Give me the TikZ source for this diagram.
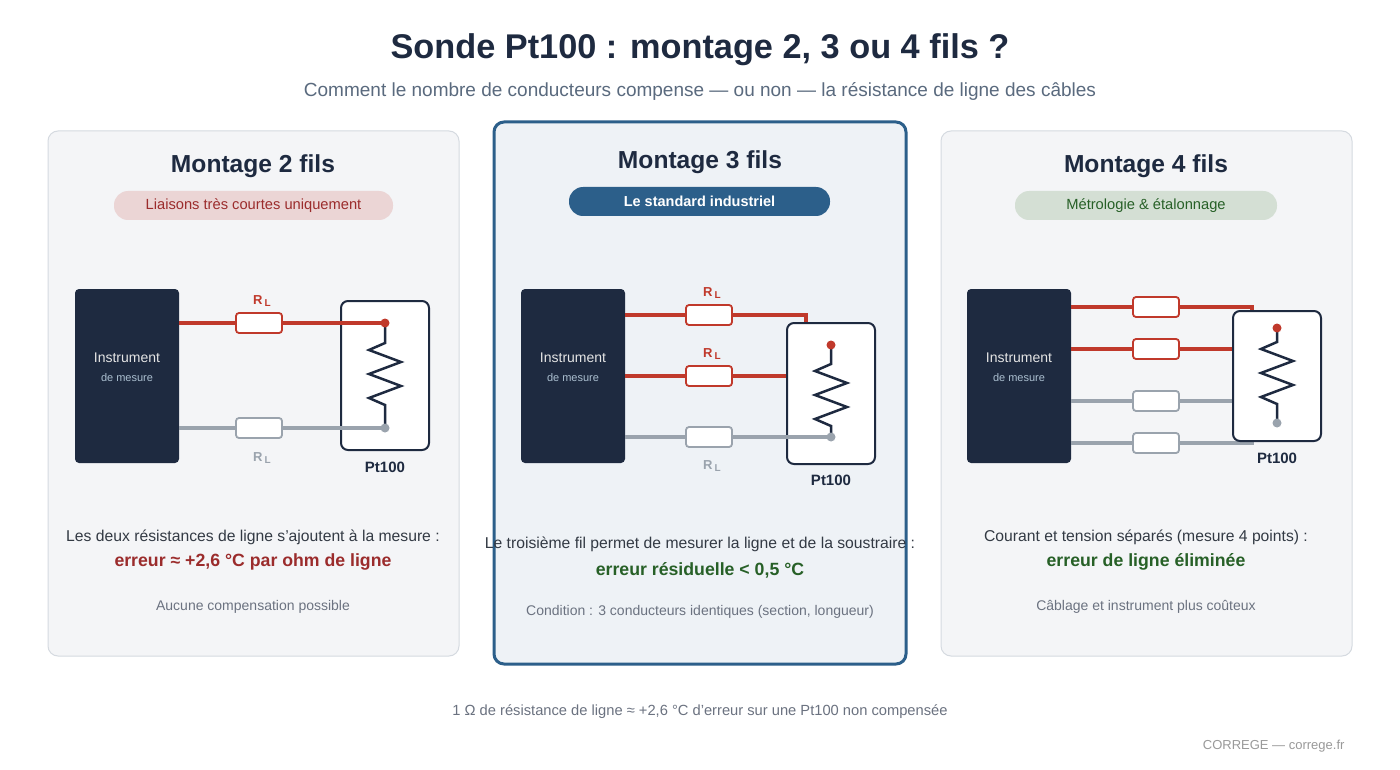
\documentclass[tikz,border=0pt]{standalone}
\usepackage{fontspec}
\setmainfont{Liberation Sans}
\begin{document}
\definecolor{navy}{HTML}{1E2A40}
\definecolor{wred}{HTML}{C0392B}
\definecolor{wgrey}{HTML}{9AA3AD}
\definecolor{dred}{HTML}{9B2C2C}
\definecolor{dgreen}{HTML}{276027}
\definecolor{blu}{HTML}{2C5F8A}
\definecolor{txt}{HTML}{333A44}
\definecolor{sub}{HTML}{5A6A7E}
\definecolor{mut}{HTML}{6B7280}
\definecolor{pfill}{HTML}{F4F5F7}
\definecolor{pdraw}{HTML}{D5DAE0}
\begin{tikzpicture}[x=1pt,y=-1pt,
 fs/.style 2 args={font=\fontsize{#1}{#1}\selectfont#2},
 panel/.style={draw=pdraw,fill=pfill,rounded corners=10pt,line width=1pt},
 inst/.style={fill=navy,rounded corners=4pt},
 probe/.style={draw=navy,fill=white,rounded corners=7pt,line width=2pt},
 rw/.style={draw=wred,line width=3.5pt},
 gw/.style={draw=wgrey,line width=3.5pt},
 rres/.style={draw=wred,fill=white,rounded corners=3pt,line width=1.8pt,minimum width=46pt,minimum height=20pt,inner sep=0pt},
 gres/.style={draw=wgrey,fill=white,rounded corners=3pt,line width=1.8pt,minimum width=46pt,minimum height=20pt,inner sep=0pt},
 zz/.style={draw=navy,line width=2.5pt,line join=miter},
 rdot/.style={circle,fill=wred,inner sep=0pt,minimum size=9pt},
 gdot/.style={circle,fill=wgrey,inner sep=0pt,minimum size=9pt},
 pill/.style={rounded corners=14pt,minimum height=29pt,inner sep=0pt},
 lab/.style={fs={13}{\bfseries}},
]
\useasboundingbox[fill=white] (0,0) rectangle (1400,770);
\node[fs={34.3}{\bfseries},text=navy] (title) at (700,50) {Sonde Pt100 : montage 2, 3 ou 4 fils ?};
\node[fs={19}{},text=sub] (subt) at (700,91) {Comment le nombre de conducteurs compense — ou non — la résistance de ligne des câbles};
% panels
\draw[panel] (48,131) rectangle (459,656);
\draw[draw=blu,fill=blu!8,rounded corners=10pt,line width=3pt] (494,122) rectangle (906,664);
\draw[panel] (941,131) rectangle (1352,656);
\node[fs={24.6}{\bfseries},text=navy] (t1) at (253,166) {Montage 2 fils};
\node[fs={24.6}{\bfseries},text=navy] (t2) at (700,162) {Montage 3 fils};
\node[fs={24.6}{\bfseries},text=navy] (t3) at (1146,166) {Montage 4 fils};
\node[pill,fill=dred!20,text=dred,minimum width=279pt,fs={14.7}{}] (p1) at (253.5,205.5) {Liaisons très courtes uniquement};
\node[pill,fill=blu,text=white,minimum width=261pt,fs={14.5}{\bfseries}] (p2) at (699.5,201.5) {Le standard industriel};
\node[pill,fill=dgreen!20,text=dgreen,minimum width=262pt,fs={14.7}{}] (p3) at (1146,205.5) {Métrologie \& étalonnage};
% ---------- circuit 1
\fill[inst] (75,289) rectangle (179,463);
\node[fs={14}{},text=white!90!black] (i1) at (127,358) {Instrument};
\node[fs={11}{},text=blu!40!white] (d1) at (127,378) {de mesure};
\draw[probe] (341,301) rectangle (429,450);
\draw[rw] (179,323) -- (385,323);
\draw[gw] (179,428) -- (385,428);
\node[rres] (r1a) at (259,323) {};
\node[gres] (r1b) at (259,428) {};
\draw[zz] (385,323) -- (385,343) -- (369,350) -- (401,362) -- (369,374) -- (401,386) -- (369,398) -- (385,405) -- (385,428);
\node[rdot] (a1) at (385,323) {};
\node[gdot] (b1) at (385,428) {};
\node[lab,text=wred] at (262,301) {R\,\raisebox{-2pt}{\fontsize{10}{10}\selectfont L}};
\node[lab,text=wgrey] at (262,458) {R\,\raisebox{-2pt}{\fontsize{10}{10}\selectfont L}};
\node[fs={15}{\bfseries},text=navy] at (385,467) {Pt100};
% ---------- circuit 2
\fill[inst] (521,289) rectangle (625,463);
\node[fs={14}{},text=white!90!black] (i2) at (573,358) {Instrument};
\node[fs={11}{},text=blu!40!white] (d2) at (573,378) {de mesure};
\draw[rw] (625,315) -- (806,315) -- (806,325);
\draw[rw] (625,376) -- (788,376);
\draw[probe] (787,323) rectangle (875,464);
\draw[gw] (625,437) -- (831,437);
\node[rres] at (709,315) {};
\node[rres] at (709,376) {};
\node[gres] at (709,437) {};
\draw[zz] (831,345) -- (831,364) -- (815,371) -- (847,383) -- (815,395) -- (847,407) -- (815,419) -- (831,426) -- (831,437);
\node[rdot] at (831,345) {};
\node[gdot] at (831,437) {};
\node[lab,text=wred] at (712,293) {R\,\raisebox{-2pt}{\fontsize{10}{10}\selectfont L}};
\node[lab,text=wred] at (712,354) {R\,\raisebox{-2pt}{\fontsize{10}{10}\selectfont L}};
\node[lab,text=wgrey] at (712,466) {R\,\raisebox{-2pt}{\fontsize{10}{10}\selectfont L}};
\node[fs={15}{\bfseries},text=navy] at (831,480) {Pt100};
% ---------- circuit 3
\fill[inst] (967,289) rectangle (1071,463);
\node[fs={14}{},text=white!90!black] (i3) at (1019,358) {Instrument};
\node[fs={11}{},text=blu!40!white] (d3) at (1019,378) {de mesure};
\draw[rw] (1071,307) -- (1252,307) -- (1252,313);
\draw[rw] (1071,349) -- (1234,349);
\draw[gw] (1071,401) -- (1234,401);
\draw[gw] (1071,443) -- (1252,443) -- (1252,439);
\draw[probe] (1233,311) rectangle (1321,441);
\node[rres] at (1156,307) {};
\node[rres] at (1156,349) {};
\node[gres] at (1156,401) {};
\node[gres] at (1156,443) {};
\draw[zz] (1277,328) -- (1277,342) -- (1261,349) -- (1293,361) -- (1261,373) -- (1293,385) -- (1261,397) -- (1277,404) -- (1277,423);
\node[rdot] at (1277,328) {};
\node[gdot] at (1277,423) {};
\node[fs={15}{\bfseries},text=navy] at (1277,458) {Pt100};
% ---------- texts
\node[fs={15.7}{},text=txt] at (253,537) {Les deux résistances de ligne s’ajoutent à la mesure :};
\node[fs={17.7}{\bfseries},text=dred] at (253,562) {erreur ≈ +2,6 °C par ohm de ligne};
\node[fs={14}{},text=mut] at (253,607) {Aucune compensation possible};
\node[fs={15.7}{},text=txt] at (700,544) {Le troisième fil permet de mesurer la ligne et de la soustraire :};
\node[fs={17.7}{\bfseries},text=dgreen] at (700,570) {erreur résiduelle < 0,5 °C};
\node[fs={14}{},text=mut] at (700,612) {Condition : 3 conducteurs identiques (section, longueur)};
\node[fs={15.7}{},text=txt] at (1146,537) {Courant et tension séparés (mesure 4 points) :};
\node[fs={17.7}{\bfseries},text=dgreen] at (1146,562) {erreur de ligne éliminée};
\node[fs={14}{},text=mut] at (1146,607) {Câblage et instrument plus coûteux};
\node[fs={14.7}{},text=mut] at (700,712) {1 Ω de résistance de ligne ≈ +2,6 °C d’erreur sur une Pt100 non compensée};
\node[fs={13}{},text=black!40,anchor=east] at (1348,746) {CORREGE — correge.fr};
\end{tikzpicture}
\end{document}
